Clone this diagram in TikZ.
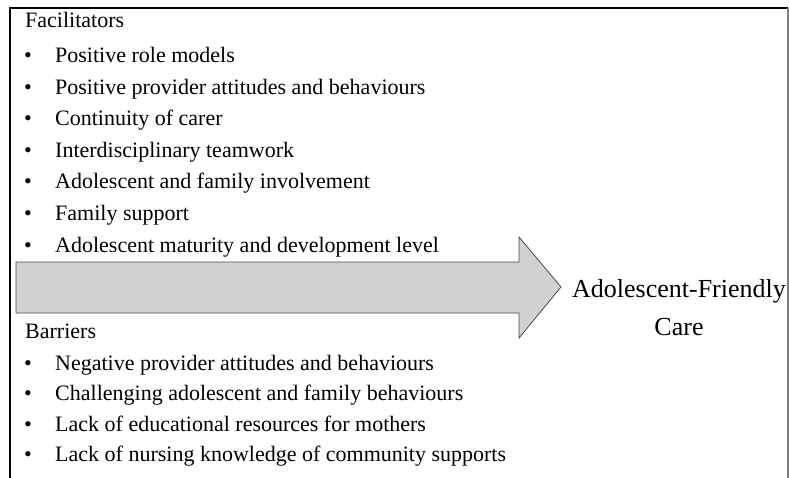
\documentclass[tikz,border=0pt]{standalone}
\usepackage{fontspec}
\setmainfont{Liberation Serif}
\usetikzlibrary{positioning}
\def\facilitators{Positive role models, Positive provider attitudes and behaviours, Continuity of carer, Interdisciplinary teamwork, Adolescent and family involvement, Family support, Adolescent maturity and development level}
\def\barriers{Negative provider attitudes and behaviours, Challenging adolescent and family behaviours, Lack of educational resources for mothers, Lack of nursing knowledge of community supports}
\tikzset{
  item/.style={anchor=base west, inner sep=0pt, font=\fontsize{22}{26}\selectfont},
  bigarrow/.style={fill=black!18, draw=black!70, line width=0.8pt, line join=miter}
}

\begin{document}
\begin{tikzpicture}[x=1pt,y=-1pt]
  \useasboundingbox (0,0) rectangle (789,478);
  % frame
  \draw[line width=1.5pt] (10,478) -- (10,8) -- (788,8);
  \draw[black!50, line width=1.2pt] (788,8) -- (788,478);
  % facilitators
  \node[item] (fac) at (25,28) {Facilitators};
  \foreach \t [count=\c, evaluate=\c as \y using {31.5+31.5*\c}] in \facilitators {
    \node[item] (fb\c) at (24,\y) {\textbullet};
    \node[item] (f\c) at (55,\y) {\t};
  }
  % arrow
  \coordinate (tip) at (561,287);
  \draw[bigarrow] (16,262) -- (519,262) -- (519,237) -- (tip) -- (519,338) -- (519,313) -- (16,313) -- cycle;
  \node[font=\fontsize{26}{38}\selectfont, align=center, inner sep=0pt] (care) at (679,308) {Adolescent-Friendly\\Care};
  % barriers
  \node[item] (bar) at (25,338) {Barriers};
  \foreach \t [count=\c, evaluate=\c as \y using {339.5+30.5*\c}] in \barriers {
    \node[item] (bb\c) at (24,\y) {\textbullet};
    \node[item] (b\c) at (55,\y) {\t};
  }
\end{tikzpicture}
\end{document}
